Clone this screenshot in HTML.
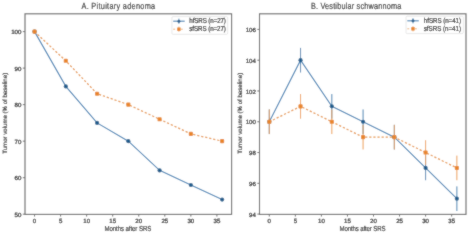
<!DOCTYPE html>
<html><head><meta charset="utf-8"><style>
html,body{margin:0;padding:0;background:#fff;width:470px;height:234px;overflow:hidden}
svg{display:block}
text{text-rendering:geometricPrecision;font-family:"Liberation Sans", sans-serif;fill:#1a1a1a;stroke:#1a1a1a;stroke-width:0.04px}
</style></head><body>
<svg width="470" height="234" viewBox="0 0 470 234">
<defs><filter id="bl" x="0" y="0" width="470" height="234" filterUnits="userSpaceOnUse"><feConvolveMatrix order="3" kernelMatrix="1 2 1 2 18 2 1 2 1" divisor="30" edgeMode="duplicate"/></filter></defs>
<g filter="url(#bl)"><rect width="470" height="234" fill="#fff"/>
<line x1="22.80" y1="214.20" x2="25.00" y2="214.20" stroke="#626262" stroke-width="0.9"/>
<text x="21.40" y="216.85" font-size="6.1" text-anchor="end" style="stroke-width:0.24px">50</text>
<line x1="22.80" y1="177.68" x2="25.00" y2="177.68" stroke="#626262" stroke-width="0.9"/>
<text x="21.40" y="180.33" font-size="6.1" text-anchor="end" style="stroke-width:0.24px">60</text>
<line x1="22.80" y1="141.16" x2="25.00" y2="141.16" stroke="#626262" stroke-width="0.9"/>
<text x="21.40" y="143.81" font-size="6.1" text-anchor="end" style="stroke-width:0.24px">70</text>
<line x1="22.80" y1="104.64" x2="25.00" y2="104.64" stroke="#626262" stroke-width="0.9"/>
<text x="21.40" y="107.29" font-size="6.1" text-anchor="end" style="stroke-width:0.24px">80</text>
<line x1="22.80" y1="68.12" x2="25.00" y2="68.12" stroke="#626262" stroke-width="0.9"/>
<text x="21.40" y="70.77" font-size="6.1" text-anchor="end" style="stroke-width:0.24px">90</text>
<line x1="22.80" y1="31.60" x2="25.00" y2="31.60" stroke="#626262" stroke-width="0.9"/>
<text x="21.40" y="34.25" font-size="6.1" text-anchor="end" style="stroke-width:0.24px">100</text>
<line x1="34.55" y1="214.40" x2="34.55" y2="216.60" stroke="#626262" stroke-width="0.9"/>
<text x="34.55" y="222.50" font-size="6.1" text-anchor="middle" style="stroke-width:0.24px">0</text>
<line x1="60.60" y1="214.40" x2="60.60" y2="216.60" stroke="#626262" stroke-width="0.9"/>
<text x="60.60" y="222.50" font-size="6.1" text-anchor="middle" style="stroke-width:0.24px">5</text>
<line x1="86.65" y1="214.40" x2="86.65" y2="216.60" stroke="#626262" stroke-width="0.9"/>
<text x="86.65" y="222.50" font-size="6.1" text-anchor="middle" style="stroke-width:0.24px">10</text>
<line x1="112.70" y1="214.40" x2="112.70" y2="216.60" stroke="#626262" stroke-width="0.9"/>
<text x="112.70" y="222.50" font-size="6.1" text-anchor="middle" style="stroke-width:0.24px">15</text>
<line x1="138.75" y1="214.40" x2="138.75" y2="216.60" stroke="#626262" stroke-width="0.9"/>
<text x="138.75" y="222.50" font-size="6.1" text-anchor="middle" style="stroke-width:0.24px">20</text>
<line x1="164.80" y1="214.40" x2="164.80" y2="216.60" stroke="#626262" stroke-width="0.9"/>
<text x="164.80" y="222.50" font-size="6.1" text-anchor="middle" style="stroke-width:0.24px">25</text>
<line x1="190.85" y1="214.40" x2="190.85" y2="216.60" stroke="#626262" stroke-width="0.9"/>
<text x="190.85" y="222.50" font-size="6.1" text-anchor="middle" style="stroke-width:0.24px">30</text>
<line x1="216.90" y1="214.40" x2="216.90" y2="216.60" stroke="#626262" stroke-width="0.9"/>
<text x="216.90" y="222.50" font-size="6.1" text-anchor="middle" style="stroke-width:0.24px">35</text>
<polyline points="34.55,31.60 65.81,86.38 97.07,122.90 128.33,141.16 159.59,170.38 190.85,184.98 222.11,199.59" fill="none" stroke="#4682b4" stroke-width="1.12"/>
<circle cx="34.55" cy="31.60" r="2.1" fill="#1f5d8c"/>
<circle cx="65.81" cy="86.38" r="2.1" fill="#1f5d8c"/>
<circle cx="97.07" cy="122.90" r="2.1" fill="#1f5d8c"/>
<circle cx="128.33" cy="141.16" r="2.1" fill="#1f5d8c"/>
<circle cx="159.59" cy="170.38" r="2.1" fill="#1f5d8c"/>
<circle cx="190.85" cy="184.98" r="2.1" fill="#1f5d8c"/>
<circle cx="222.11" cy="199.59" r="2.1" fill="#1f5d8c"/>
<polyline points="34.55,31.60 65.81,60.82 97.07,93.68 128.33,104.64 159.59,119.25 190.85,133.86 222.11,141.16" fill="none" stroke="#e6964c" stroke-width="1.25" stroke-dasharray="2.2,1.9"/>
<rect x="32.50" y="29.55" width="4.1" height="4.1" rx="0.9" fill="#e8862c"/>
<rect x="63.76" y="58.77" width="4.1" height="4.1" rx="0.9" fill="#e8862c"/>
<rect x="95.02" y="91.63" width="4.1" height="4.1" rx="0.9" fill="#e8862c"/>
<rect x="126.28" y="102.59" width="4.1" height="4.1" rx="0.9" fill="#e8862c"/>
<rect x="157.54" y="117.20" width="4.1" height="4.1" rx="0.9" fill="#e8862c"/>
<rect x="188.80" y="131.81" width="4.1" height="4.1" rx="0.9" fill="#e8862c"/>
<rect x="220.06" y="139.11" width="4.1" height="4.1" rx="0.9" fill="#e8862c"/>
<rect x="25.00" y="13.80" width="206.60" height="200.60" fill="none" stroke="#626262" stroke-width="1.1"/>
<g transform="translate(81.50,8.8) scale(1.0,1.24)"><text x="0" y="0" font-size="7.3" style="stroke-width:0.1px" textLength="73.60" lengthAdjust="spacing">A. Pituitary adenoma</text></g>
<g transform="translate(104.50,230.6) scale(1,1.2)"><text x="0" y="0" font-size="6.1" style="stroke-width:0.1px" textLength="46.80" lengthAdjust="spacing">Months after SRS</text></g>
<g transform="translate(6.50,153.8) rotate(-90) scale(1,1.0)"><text x="0" y="0" font-size="6.2" style="stroke-width:0.12px" textLength="81" lengthAdjust="spacing">Tumor volume (% of baseline)</text></g>
<rect x="171.90" y="16.60" width="55.80" height="17.70" rx="1.2" fill="#fff" fill-opacity="0.8" stroke="#e2e2e2" stroke-width="0.8"/>
<line x1="173.20" y1="21.20" x2="184.70" y2="21.20" stroke="#4682b4" stroke-width="1.12"/>
<line x1="178.90" y1="18.60" x2="178.90" y2="23.80" stroke="#4a84b2" stroke-width="0.9"/>
<circle cx="178.90" cy="21.20" r="1.5" fill="#1f5d8c"/>
<line x1="173.20" y1="29.20" x2="184.70" y2="29.20" stroke="#e6964c" stroke-width="1.0" stroke-dasharray="2,1.8" opacity="0.7"/>
<line x1="178.90" y1="26.60" x2="178.90" y2="31.80" stroke="#ec9a4c" stroke-width="0.8"/>
<rect x="177.20" y="27.50" width="3.4" height="3.4" fill="#e8862c"/>
<g transform="translate(189.30,23.35) scale(1,1.16)"><text x="0" y="0" font-size="6.2" style="stroke-width:0.15px" textLength="36.60" lengthAdjust="spacing">hfSRS (n=27)</text></g>
<g transform="translate(189.30,31.35) scale(1,1.16)"><text x="0" y="0" font-size="6.2" style="stroke-width:0.15px" textLength="36.60" lengthAdjust="spacing">sfSRS (n=27)</text></g>
<line x1="257.30" y1="214.10" x2="259.50" y2="214.10" stroke="#626262" stroke-width="0.9"/>
<text x="255.90" y="216.75" font-size="6.1" text-anchor="end" style="stroke-width:0.24px">94</text>
<line x1="257.30" y1="183.32" x2="259.50" y2="183.32" stroke="#626262" stroke-width="0.9"/>
<text x="255.90" y="185.97" font-size="6.1" text-anchor="end" style="stroke-width:0.24px">96</text>
<line x1="257.30" y1="152.54" x2="259.50" y2="152.54" stroke="#626262" stroke-width="0.9"/>
<text x="255.90" y="155.19" font-size="6.1" text-anchor="end" style="stroke-width:0.24px">98</text>
<line x1="257.30" y1="121.76" x2="259.50" y2="121.76" stroke="#626262" stroke-width="0.9"/>
<text x="255.90" y="124.41" font-size="6.1" text-anchor="end" style="stroke-width:0.24px">100</text>
<line x1="257.30" y1="90.98" x2="259.50" y2="90.98" stroke="#626262" stroke-width="0.9"/>
<text x="255.90" y="93.63" font-size="6.1" text-anchor="end" style="stroke-width:0.24px">102</text>
<line x1="257.30" y1="60.20" x2="259.50" y2="60.20" stroke="#626262" stroke-width="0.9"/>
<text x="255.90" y="62.85" font-size="6.1" text-anchor="end" style="stroke-width:0.24px">104</text>
<line x1="257.30" y1="29.42" x2="259.50" y2="29.42" stroke="#626262" stroke-width="0.9"/>
<text x="255.90" y="32.07" font-size="6.1" text-anchor="end" style="stroke-width:0.24px">106</text>
<line x1="269.30" y1="214.40" x2="269.30" y2="216.60" stroke="#626262" stroke-width="0.9"/>
<text x="269.30" y="222.50" font-size="6.1" text-anchor="middle" style="stroke-width:0.24px">0</text>
<line x1="295.35" y1="214.40" x2="295.35" y2="216.60" stroke="#626262" stroke-width="0.9"/>
<text x="295.35" y="222.50" font-size="6.1" text-anchor="middle" style="stroke-width:0.24px">5</text>
<line x1="321.40" y1="214.40" x2="321.40" y2="216.60" stroke="#626262" stroke-width="0.9"/>
<text x="321.40" y="222.50" font-size="6.1" text-anchor="middle" style="stroke-width:0.24px">10</text>
<line x1="347.45" y1="214.40" x2="347.45" y2="216.60" stroke="#626262" stroke-width="0.9"/>
<text x="347.45" y="222.50" font-size="6.1" text-anchor="middle" style="stroke-width:0.24px">15</text>
<line x1="373.50" y1="214.40" x2="373.50" y2="216.60" stroke="#626262" stroke-width="0.9"/>
<text x="373.50" y="222.50" font-size="6.1" text-anchor="middle" style="stroke-width:0.24px">20</text>
<line x1="399.55" y1="214.40" x2="399.55" y2="216.60" stroke="#626262" stroke-width="0.9"/>
<text x="399.55" y="222.50" font-size="6.1" text-anchor="middle" style="stroke-width:0.24px">25</text>
<line x1="425.60" y1="214.40" x2="425.60" y2="216.60" stroke="#626262" stroke-width="0.9"/>
<text x="425.60" y="222.50" font-size="6.1" text-anchor="middle" style="stroke-width:0.24px">30</text>
<line x1="451.65" y1="214.40" x2="451.65" y2="216.60" stroke="#626262" stroke-width="0.9"/>
<text x="451.65" y="222.50" font-size="6.1" text-anchor="middle" style="stroke-width:0.24px">35</text>
<line x1="269.30" y1="134.07" x2="269.30" y2="109.45" stroke="#4a84b2" stroke-width="1.0"/>
<line x1="300.56" y1="72.51" x2="300.56" y2="47.89" stroke="#4a84b2" stroke-width="1.0"/>
<line x1="331.82" y1="118.68" x2="331.82" y2="94.06" stroke="#4a84b2" stroke-width="1.0"/>
<line x1="363.08" y1="134.07" x2="363.08" y2="109.45" stroke="#4a84b2" stroke-width="1.0"/>
<line x1="394.34" y1="149.46" x2="394.34" y2="124.84" stroke="#4a84b2" stroke-width="1.0"/>
<line x1="425.60" y1="180.24" x2="425.60" y2="155.62" stroke="#4a84b2" stroke-width="1.0"/>
<line x1="456.86" y1="211.02" x2="456.86" y2="186.40" stroke="#4a84b2" stroke-width="1.0"/>
<polyline points="269.30,121.76 300.56,60.20 331.82,106.37 363.08,121.76 394.34,137.15 425.60,167.93 456.86,198.71" fill="none" stroke="#4682b4" stroke-width="1.12"/>
<circle cx="269.30" cy="121.76" r="2.1" fill="#1f5d8c"/>
<circle cx="300.56" cy="60.20" r="2.1" fill="#1f5d8c"/>
<circle cx="331.82" cy="106.37" r="2.1" fill="#1f5d8c"/>
<circle cx="363.08" cy="121.76" r="2.1" fill="#1f5d8c"/>
<circle cx="394.34" cy="137.15" r="2.1" fill="#1f5d8c"/>
<circle cx="425.60" cy="167.93" r="2.1" fill="#1f5d8c"/>
<circle cx="456.86" cy="198.71" r="2.1" fill="#1f5d8c"/>
<line x1="269.30" y1="134.07" x2="269.30" y2="109.45" stroke="#ec9a4c" stroke-width="0.95"/>
<line x1="300.56" y1="118.68" x2="300.56" y2="94.06" stroke="#ec9a4c" stroke-width="0.95"/>
<line x1="331.82" y1="134.07" x2="331.82" y2="109.45" stroke="#ec9a4c" stroke-width="0.95"/>
<line x1="363.08" y1="149.46" x2="363.08" y2="124.84" stroke="#ec9a4c" stroke-width="0.95"/>
<line x1="394.34" y1="149.46" x2="394.34" y2="124.84" stroke="#ec9a4c" stroke-width="0.95"/>
<line x1="425.60" y1="164.85" x2="425.60" y2="140.23" stroke="#ec9a4c" stroke-width="0.95"/>
<line x1="456.86" y1="180.24" x2="456.86" y2="155.62" stroke="#ec9a4c" stroke-width="0.95"/>
<polyline points="269.30,121.76 300.56,106.37 331.82,121.76 363.08,137.15 394.34,137.15 425.60,152.54 456.86,167.93" fill="none" stroke="#e6964c" stroke-width="1.25" stroke-dasharray="2.2,1.9"/>
<rect x="267.25" y="119.71" width="4.1" height="4.1" rx="0.9" fill="#e8862c"/>
<rect x="298.51" y="104.32" width="4.1" height="4.1" rx="0.9" fill="#e8862c"/>
<rect x="329.77" y="119.71" width="4.1" height="4.1" rx="0.9" fill="#e8862c"/>
<rect x="361.03" y="135.10" width="4.1" height="4.1" rx="0.9" fill="#e8862c"/>
<rect x="392.29" y="135.10" width="4.1" height="4.1" rx="0.9" fill="#e8862c"/>
<rect x="423.55" y="150.49" width="4.1" height="4.1" rx="0.9" fill="#e8862c"/>
<rect x="454.81" y="165.88" width="4.1" height="4.1" rx="0.9" fill="#e8862c"/>
<rect x="259.50" y="13.80" width="206.50" height="200.60" fill="none" stroke="#626262" stroke-width="1.1"/>
<g transform="translate(310.90,8.8) scale(1.0,1.24)"><text x="0" y="0" font-size="7.3" style="stroke-width:0.1px" textLength="90.40" lengthAdjust="spacing">B. Vestibular schwannoma</text></g>
<g transform="translate(339.60,230.6) scale(1,1.2)"><text x="0" y="0" font-size="6.1" style="stroke-width:0.1px" textLength="45.90" lengthAdjust="spacing">Months after SRS</text></g>
<g transform="translate(241.80,153.8) rotate(-90) scale(1,1.0)"><text x="0" y="0" font-size="6.2" style="stroke-width:0.12px" textLength="81" lengthAdjust="spacing">Tumor volume (% of baseline)</text></g>
<rect x="406.00" y="16.20" width="57.30" height="17.40" rx="1.2" fill="#fff" fill-opacity="0.8" stroke="#e2e2e2" stroke-width="0.8"/>
<line x1="407.30" y1="20.80" x2="418.80" y2="20.80" stroke="#4682b4" stroke-width="1.12"/>
<line x1="413.00" y1="18.20" x2="413.00" y2="23.40" stroke="#4a84b2" stroke-width="0.9"/>
<circle cx="413.00" cy="20.80" r="1.5" fill="#1f5d8c"/>
<line x1="407.30" y1="28.80" x2="418.80" y2="28.80" stroke="#e6964c" stroke-width="1.0" stroke-dasharray="2,1.8" opacity="0.7"/>
<line x1="413.00" y1="26.20" x2="413.00" y2="31.40" stroke="#ec9a4c" stroke-width="0.8"/>
<rect x="411.30" y="27.10" width="3.4" height="3.4" fill="#e8862c"/>
<g transform="translate(423.80,22.95) scale(1,1.16)"><text x="0" y="0" font-size="6.2" style="stroke-width:0.15px" textLength="37.20" lengthAdjust="spacing">hfSRS (n=41)</text></g>
<g transform="translate(423.80,30.95) scale(1,1.16)"><text x="0" y="0" font-size="6.2" style="stroke-width:0.15px" textLength="37.20" lengthAdjust="spacing">sfSRS (n=41)</text></g>
</g></svg></body></html>
